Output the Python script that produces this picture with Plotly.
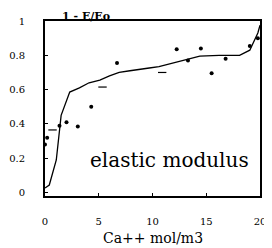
import plotly.graph_objects as go

# fitted curve
curve_x = [0.0, 0.4, 1.05, 1.35, 1.5, 2.3, 3.2, 4.1, 5.1, 6.0, 6.9, 7.9, 8.8, 9.7, 10.6, 11.6, 12.5, 14.4, 16.2, 18.1, 19.05, 19.5, 19.8, 20.0]
curve_y = [0.027, 0.044, 0.19, 0.365, 0.45, 0.586, 0.61, 0.64, 0.656, 0.68, 0.70, 0.71, 0.72, 0.726, 0.734, 0.75, 0.767, 0.795, 0.80, 0.80, 0.83, 0.89, 0.93, 0.975]

# measured points
pts_x = [0.0, 0.2, 1.35, 2.0, 3.05, 4.3, 6.7, 12.25, 14.5, 15.5, 16.8, 19.05, 19.8, 13.3]
pts_y = [0.28, 0.32, 0.39, 0.41, 0.385, 0.50, 0.755, 0.835, 0.84, 0.695, 0.78, 0.855, 0.90, 0.77]

# dash markers
dash_x = [0.7, 5.35, 10.9]
dash_y = [0.365, 0.615, 0.70]

x_ticks = [0, 5, 10, 15, 20]
y_ticks = [0, 0.2, 0.4, 0.6, 0.8, 1]
y_labels = ["0", "0.2", "0.4", "0.6", "0.8", "1"]

serif = "DejaVu Serif"
pad = "\u00a0" * 5

fig = go.Figure()
fig.add_trace(go.Scatter(x=curve_x, y=curve_y, mode="lines",
                         line=dict(color="black", width=1.3), showlegend=False))
fig.add_trace(go.Scatter(x=pts_x, y=pts_y, mode="markers",
                         marker=dict(color="black", size=4), showlegend=False))
fig.add_trace(go.Scatter(x=dash_x, y=dash_y, mode="markers",
                         marker=dict(color="black", size=6, symbol="line-ew",
                                     line=dict(color="black", width=1.2)),
                         showlegend=False))

fig.update_layout(
    width=264, height=240,
    margin=dict(l=37, r=12, t=13, b=52, autoexpand=False),
    paper_bgcolor="white", plot_bgcolor="white",
    font=dict(family=serif, color="black", size=10),
    xaxis=dict(range=[0, 20], tickvals=x_ticks, ticktext=[str(v) for v in x_ticks],
               showgrid=False, zeroline=False, showline=True, linecolor="black",
               linewidth=2, mirror=True, ticks="inside", ticklen=3, tickcolor="black",
               tickfont=dict(family=serif, size=10), automargin=False,
               ticklabelstandoff=15),
    yaxis=dict(range=[-0.02, 1.0], tickvals=y_ticks, ticktext=[t + pad for t in y_labels],
               showgrid=False, zeroline=False, showline=True, linecolor="black",
               linewidth=2, mirror=True, ticks="inside", ticklen=3, tickcolor="black",
               tickfont=dict(family=serif, size=10), automargin=False),
    annotations=[
        dict(text="<b>1 - E/Eo</b>", x=0.19, y=1.0, xref="paper", yref="paper",
             xanchor="center", yanchor="top", yshift=13, showarrow=False,
             font=dict(family=serif, size=11)),
        dict(text="elastic modulus", x=0.58, y=0.206, xref="paper", yref="paper",
             xanchor="center", yanchor="middle", showarrow=False,
             font=dict(family=serif, size=20)),
        dict(text="Ca++ mol/m3", x=0.5, y=0, xref="paper", yref="paper",
             xanchor="center", yanchor="middle", yshift=-42, showarrow=False,
             font=dict(family=serif, size=14)),
    ],
)

fig.write_html("out.html")
